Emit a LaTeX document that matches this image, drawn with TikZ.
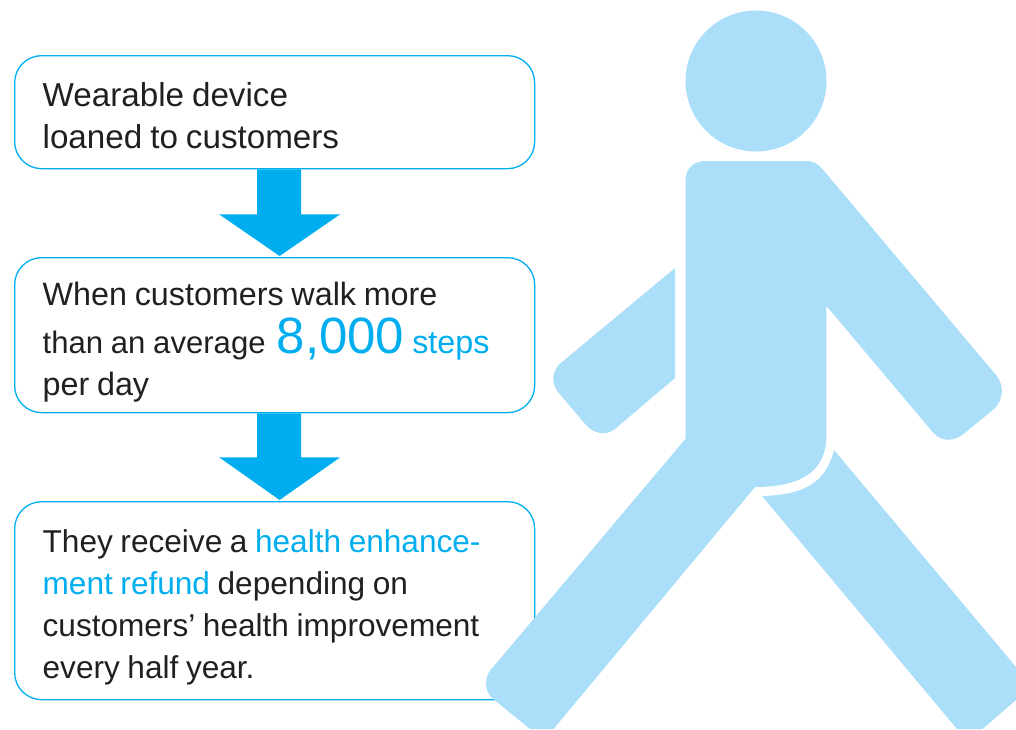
\documentclass[tikz,border=0pt]{standalone}
\usepackage{fontspec}
\setmainfont{Liberation Sans}
\usetikzlibrary{calc}
\definecolor{cyanline}{HTML}{00AEEF}
\definecolor{personblue}{HTML}{ABDEF9}
\definecolor{inkblack}{HTML}{231F20}
\newcommand{\hl}[1]{\textcolor{cyanline}{#1}}
\newcommand{\fs}[1]{\fontsize{#1pt}{42pt}\selectfont}
\newcommand{\lift}[1]{\spaceskip=0.24em\relax\rule{0pt}{#1pt}}
\tikzset{
  stepbox/.style={draw=cyanline,line width=1.3pt,rounded corners=27pt,minimum width=520pt,
    text width=464pt,inner xsep=28pt,inner ysep=0pt,align=left,text=inkblack,anchor=north west},
  flowarrow/.style={fill=cyanline,draw=none},
  person/.style={fill=personblue,draw=none}
}
\begin{document}
\begin{tikzpicture}[x=1pt,y=-1pt]
\useasboundingbox (0,0) rectangle (1016,729);
\node[stepbox,minimum height=113pt,font=\fs{33.2}] (a) at (14,55) {\lift{31.5}Wearable device\\loaned to customers};
\node[stepbox,minimum height=155pt,font=\fs{32.3}] (b) at (14,257) {\lift{38}When customers walk more\\[6pt]{\fs{31.1}than an average}\hspace{11pt}{\fs{51}\hl{8,000}}\hspace{8pt}\hl{steps}\\per day};
\node[stepbox,minimum height=198pt,font=\fs{31.6}] (c) at (14,501) {\lift{36}They receive a \hl{health enhance-}\\\hl{ment refund} depending on\\customers’ health improvement\\every half year.};
\fill[flowarrow] ($(a.south)+(-17.5,0)$) -- ($(a.south)+(26.5,0)$) -- ($(a.south)+(26.5,45)$) -- ($(a.south)+(65.5,45)$) -- ($(b.north)+(5,-1)$) -- ($(a.south)+(-55.5,45)$) -- ($(a.south)+(-17.5,45)$) -- cycle;
\fill[flowarrow] ($(b.south)+(-17.5,0)$) -- ($(b.south)+(26.5,0)$) -- ($(b.south)+(26.5,44)$) -- ($(b.south)+(65.5,44)$) -- ($(c.north)+(5,-1)$) -- ($(b.south)+(-55.5,44)$) -- ($(b.south)+(-17.5,44)$) -- cycle;
% head
\fill[person] (756,81) circle (70.5);
% torso, front arm, front leg
\fill[person] (685.5,181) .. controls (685.5,168) and (694,161) .. (705.6,161)
  -- (806.5,161) .. controls (813,161) and (818,164) .. (822,168.5)
  -- (996,375) .. controls (1005,386) and (1003,400) .. (994.5,408.5)
  -- (964,433.6) .. controls (953,442) and (942,442) .. (933,432.5)
  -- (826.3,305.8) -- (826.3,436) .. controls (826.3,472) and (800,487) .. (755,487)
  -- (553.5,729) -- (530,729) -- (492,698) .. controls (485,692) and (484,679) .. (490,670.7)
  -- (685.5,438.8) -- cycle;
% back arm
\fill[person] (675,268) -- (675,378) -- (615,429) .. controls (606,436) and (594,434) .. (586,425)
  -- (558,392) .. controls (551,383) and (552,371) .. (560.3,363.4) -- cycle;
% back leg
\fill[person] (834,450) -- (1016,667) -- (1016,700) -- (982.6,729) -- (957,729) -- (762,496)
  .. controls (805,495) and (826,482) .. (834,450) -- cycle;
\end{tikzpicture}
\end{document}
